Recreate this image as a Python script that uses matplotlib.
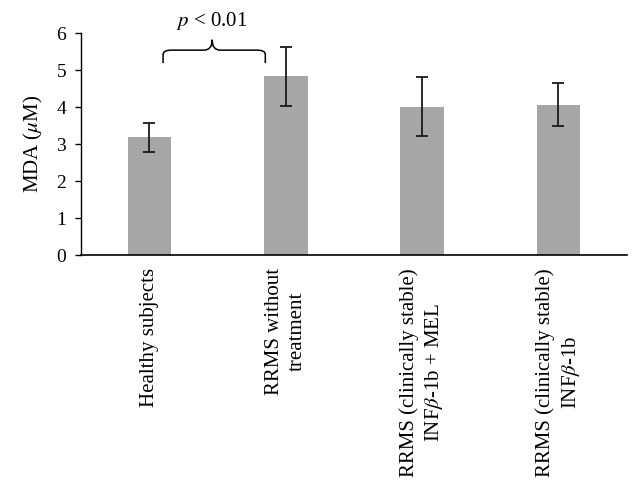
import numpy as np
import matplotlib
matplotlib.use('Agg')
import matplotlib.pyplot as plt
from matplotlib.path import Path
from matplotlib.patches import PathPatch

plt.rcParams['font.family'] = ['Liberation Serif', 'DejaVu Serif']
plt.rcParams['mathtext.fontset'] = 'stix'

# data
groups = ['Healthy subjects', 'RRMS without\ntreatment',
          'RRMS (clinically stable)\nINF$\\beta$-1b + MEL',
          'RRMS (clinically stable)\nINF$\\beta$-1b']
mda = [3.19, 4.83, 4.01, 4.07]
err = [0.39, 0.79, 0.80, 0.58]

fig = plt.figure(figsize=(6.4, 4.94), dpi=100)
ax = fig.add_axes([0.127, 0.483, 0.852, 0.45])

x = np.arange(len(groups))
ax.bar(x, mda, width=0.32, color='#a6a6a6', zorder=2)
ax.errorbar(x, mda, yerr=err, fmt='none', ecolor='#1a1a1a', elinewidth=1.3,
            capsize=4, capthick=1.3, zorder=3)

ax.set_xlim(-0.5, 3.5)
ax.set_ylim(0, 6)
ax.set_yticks(range(7))
ax.tick_params(axis='y', labelsize=14, length=4, width=1, direction='out', pad=7)
ax.tick_params(axis='x', length=0, labelsize=15, pad=9)
ax.set_xticks(x)
ax.set_xticklabels(groups, rotation=90, ha='center', va='top',
                   multialignment='center', linespacing=1.3)
ax.set_ylabel('MDA ($\\mu$M)', fontsize=15, labelpad=8)
for s in ['top', 'right']:
    ax.spines[s].set_visible(False)
ax.spines['left'].set_linewidth(1)
ax.spines['bottom'].set_linewidth(1.2)

# significance brace between group 0 and 1
xl, xr, xm = 0.10, 0.85, 0.46
yb, yh, yt = 5.19, 5.54, 5.82
r = 0.06
verts = [(xl, yb), (xl, yh - 0.12), (xl, yh), (xl + r, yh),
         (xm - r, yh), (xm, yh), (xm, yt),
         (xm, yh), (xm + r, yh),
         (xr - r, yh), (xr, yh), (xr, yh - 0.12), (xr, yb)]
codes = [Path.MOVETO, Path.LINETO, Path.CURVE3, Path.CURVE3,
         Path.LINETO, Path.CURVE3, Path.CURVE3,
         Path.CURVE3, Path.CURVE3,
         Path.LINETO, Path.CURVE3, Path.CURVE3, Path.LINETO]
ax.add_patch(PathPatch(Path(verts, codes), fill=False, lw=1.1, ec='black', clip_on=False))
ax.text(xm, 6.33, '$p$ < 0.01', ha='center', va='center', fontsize=15, clip_on=False)

fig.savefig('out.png', dpi=100)
